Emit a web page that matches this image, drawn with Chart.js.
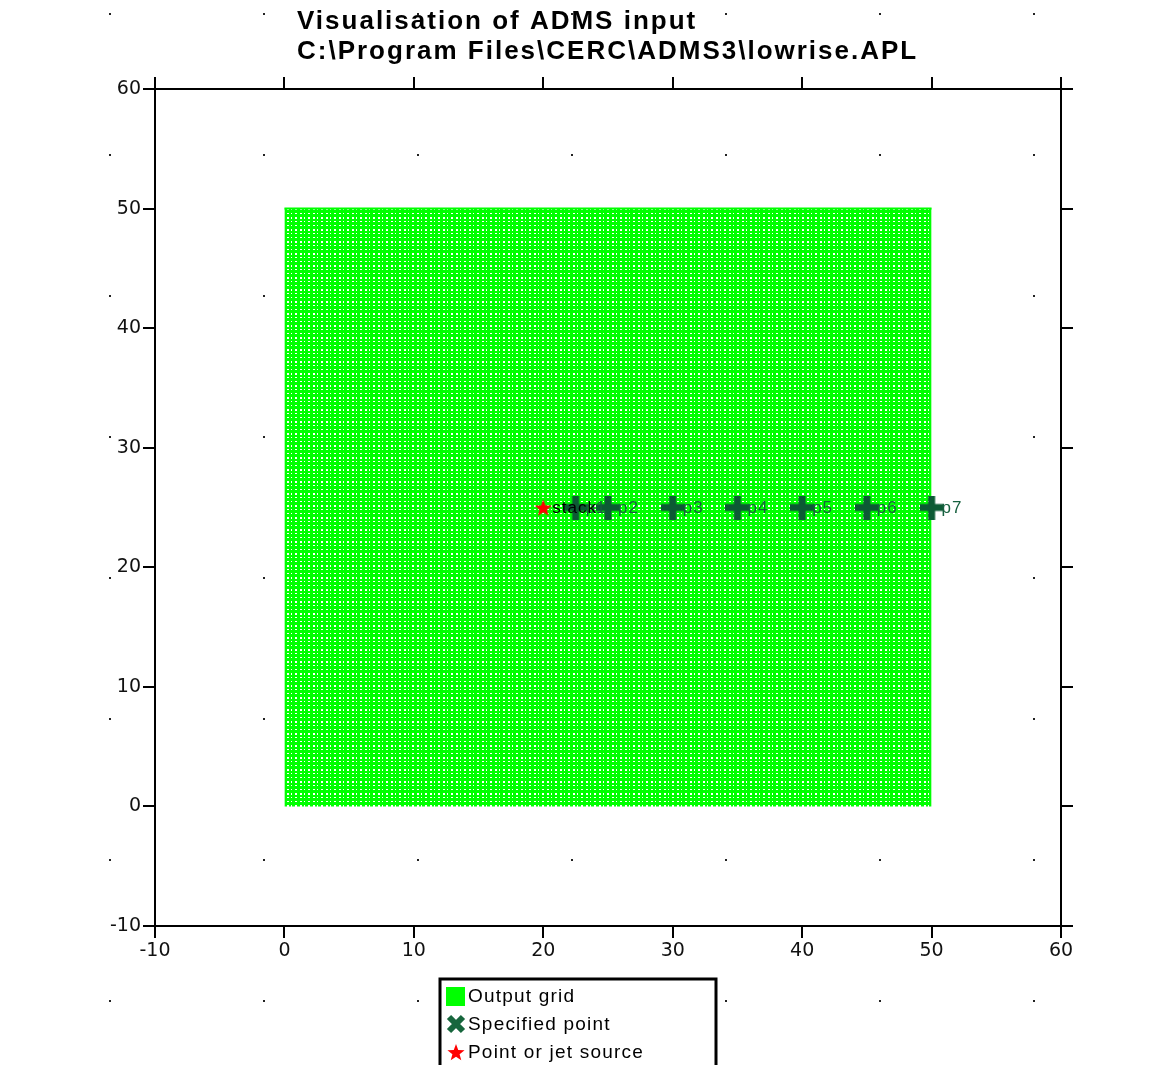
<!DOCTYPE html>
<html>
<head>
<meta charset="utf-8">
<script src="https://cdn.jsdelivr.net/npm/chart.js@4.4.1/dist/chart.umd.min.js"></script>
<style>
html, body { margin: 0; padding: 0; background: #fff; }
#wrap { width: 1156px; height: 1065px; }
</style>
</head>
<body>
<div id="wrap"><canvas id="admsChart" width="1156" height="1065"></canvas></div>
<script>
// Datos del gráfico
const titleLines = ['Visualisation of ADMS input', 'C:\\Program Files\\CERC\\ADMS3\\lowrise.APL'];
const axisMin = -10;
const axisMax = 60;
const axisStep = 10;
const gridX = [0, 50];          // extensión de la malla de salida
const gridY = [0, 50];
const pointNames = ['p1', 'p2', 'p3', 'p4', 'p5', 'p6', 'p7'];
const pointX = [22.5, 25, 30, 35, 40, 45, 50];
const pointY = [25, 25, 25, 25, 25, 25, 25];
const sourceNames = ['stack'];
const sourceX = [20];
const sourceY = [25];
const legendLabels = ['Output grid', 'Specified point', 'Point or jet source'];

const darkGreen = '#0d5a35';
const labelGreen = '#17603f';

// Marcadores dibujados en canvas pequeños
function makePlus(size, arm, color) {
    const c = document.createElement('canvas');
    c.width = size; c.height = size;
    const g = c.getContext('2d');
    g.fillStyle = color;
    const o = (size - arm) / 2;
    g.fillRect(o, 0, arm, size);
    g.fillRect(0, o, size, arm);
    return c;
}

function makeCrossRot(size, arm, color) {
    const c = document.createElement('canvas');
    c.width = size; c.height = size;
    const g = c.getContext('2d');
    g.strokeStyle = color;
    g.lineWidth = arm;
    g.lineCap = 'butt';
    const p = arm / 2;
    g.beginPath();
    g.moveTo(p, p); g.lineTo(size - p, size - p);
    g.moveTo(size - p, p); g.lineTo(p, size - p);
    g.stroke();
    return c;
}

function makeStar(size, color) {
    const c = document.createElement('canvas');
    c.width = size; c.height = size;
    const g = c.getContext('2d');
    g.fillStyle = color;
    const cx = size / 2, cy = size / 2 + 1, R = size / 2, r = R * 0.42;
    g.beginPath();
    for (let i = 0; i < 10; i++) {
        const rad = i % 2 === 0 ? R : r;
        const a = -Math.PI / 2 + i * Math.PI / 5;
        const px = cx + rad * Math.cos(a), py = cy + rad * Math.sin(a);
        if (i === 0) g.moveTo(px, py); else g.lineTo(px, py);
    }
    g.closePath();
    g.fill();
    return c;
}

// Textura de la malla (verde con huecos blancos)
function makeGridPattern(ctx) {
    const c = document.createElement('canvas');
    c.width = 13; c.height = 12;
    const g = c.getContext('2d');
    g.fillStyle = '#00ff00';
    g.fillRect(0, 0, 13, 12);
    g.fillStyle = '#ffffff';
    const cols = [[1, 2], [5, 1], [9, 2]];
    const rows = [[1, 2], [5, 1], [9, 1]];
    rows.forEach(r => cols.forEach(col => g.fillRect(col[0], r[0], col[1], r[1])));
    return ctx.createPattern(c, 'repeat');
}

const plusImg = makePlus(24, 7, darkGreen);
const crossImg = makeCrossRot(20, 6, '#17663d');
const starImg = makeStar(18, '#ff0000');

// Puntos de fondo (rejilla de diseño)
const bgDots = {
    id: 'bgDots',
    beforeDraw(chart) {
        const g = chart.ctx;
        g.save();
        g.fillStyle = '#222';
        for (let x = 110; x < chart.width; x += 154) {
            for (let y = 14; y < chart.height; y += 141) {
                g.fillRect(x - 1, y - 1, 2, 2);
            }
        }
        g.restore();
    }
};

// Etiquetas de los puntos
const pointLabels = {
    id: 'pointLabels',
    afterDatasetsDraw(chart) {
        const g = chart.ctx;
        g.save();
        g.font = '17px "Liberation Sans", Arial, sans-serif';
        g.letterSpacing = '1px';
        g.textBaseline = 'middle';
        g.textAlign = 'left';
        const pm = chart.getDatasetMeta(1);
        g.fillStyle = labelGreen;
        pm.data.forEach((el, i) => g.fillText(pointNames[i], el.x + 10, el.y + 1));
        const sm = chart.getDatasetMeta(0);
        g.fillStyle = '#000';
        sm.data.forEach((el, i) => g.fillText(sourceNames[i], el.x + 9, el.y + 1));
        g.restore();
    }
};

// Título en dos líneas
const titleText = {
    id: 'titleText',
    afterDraw(chart) {
        const g = chart.ctx;
        g.save();
        g.font = 'bold 26px "Liberation Sans", Arial, sans-serif';
        g.letterSpacing = '2px';
        g.fillStyle = '#000';
        g.textBaseline = 'alphabetic';
        g.textAlign = 'left';
        g.fillText(titleLines[0], 297, 29);
        g.fillText(titleLines[1], 297, 59);
        g.restore();
    }
};

// Leyenda con recuadro
const legendBox = {
    id: 'legendBox',
    afterDraw(chart) {
        const g = chart.ctx;
        g.save();
        g.strokeStyle = '#000';
        g.lineWidth = 3;
        g.strokeRect(440, 979, 276, 110);
        const icons = [null, crossImg, starImg];
        g.font = '19px "Liberation Sans", Arial, sans-serif';
        g.letterSpacing = '1.2px';
        g.textBaseline = 'middle';
        legendLabels.forEach((lbl, i) => {
            const cy = 996 + i * 28;
            if (i === 0) {
                g.fillStyle = '#00ff00';
                g.fillRect(446, cy - 9, 19, 19);
            } else {
                const img = icons[i];
                g.drawImage(img, 456 - img.width / 2, cy - img.height / 2);
            }
            g.fillStyle = '#000';
            g.fillText(lbl, 468, cy + 1);
        });
        g.restore();
    }
};

const ctx = document.getElementById('admsChart').getContext('2d');
const gridPattern = makeGridPattern(ctx);

const tickFont = { family: '"DejaVu Sans", Arial, sans-serif', size: 19 };

function axis(position, showLabels, size) {
    return {
        type: 'linear',
        position: position,
        min: axisMin,
        max: axisMax,
        ticks: {
            display: showLabels,
            stepSize: axisStep,
            color: '#111',
            font: tickFont,
            padding: 2,
            maxRotation: 0
        },
        grid: { drawOnChartArea: false, drawTicks: true, tickLength: 12, color: '#000', lineWidth: 2 },
        border: { display: true, color: '#000', width: 2 },
        afterFit: s => {
            if (position === 'left' || position === 'right') s.width = size; else s.height = size;
        }
    };
}

new Chart(ctx, {
    type: 'line',
    data: {
        datasets: [
            {
                label: legendLabels[2],
                data: sourceX.map((x, i) => ({ x: x, y: sourceY[i] })),
                showLine: false,
                pointStyle: starImg,
                pointRadius: 8,
                order: 1
            },
            {
                label: legendLabels[1],
                data: pointX.map((x, i) => ({ x: x, y: pointY[i] })),
                showLine: false,
                pointStyle: plusImg,
                pointRadius: 10,
                order: 2
            },
            {
                label: legendLabels[0],
                data: [{ x: gridX[0], y: gridY[1] }, { x: gridX[1], y: gridY[1] }],
                fill: { value: gridY[0] },
                backgroundColor: gridPattern,
                borderColor: '#00ff00',
                borderWidth: 2,
                pointRadius: 0,
                order: 3
            }
        ]
    },
    options: {
        responsive: false,
        animation: false,
        events: [],
        layout: { padding: { left: 95, right: 83, top: 77, bottom: 99 } },
        plugins: {
            legend: { display: false },
            tooltip: { enabled: false },
            title: { display: false }
        },
        scales: {
            x: axis('bottom', true, 40),
            x2: axis('top', false, 12),
            y: axis('left', true, 60),
            y2: axis('right', false, 12)
        }
    },
    plugins: [bgDots, pointLabels, titleText, legendBox]
});
</script>
</body>
</html>
